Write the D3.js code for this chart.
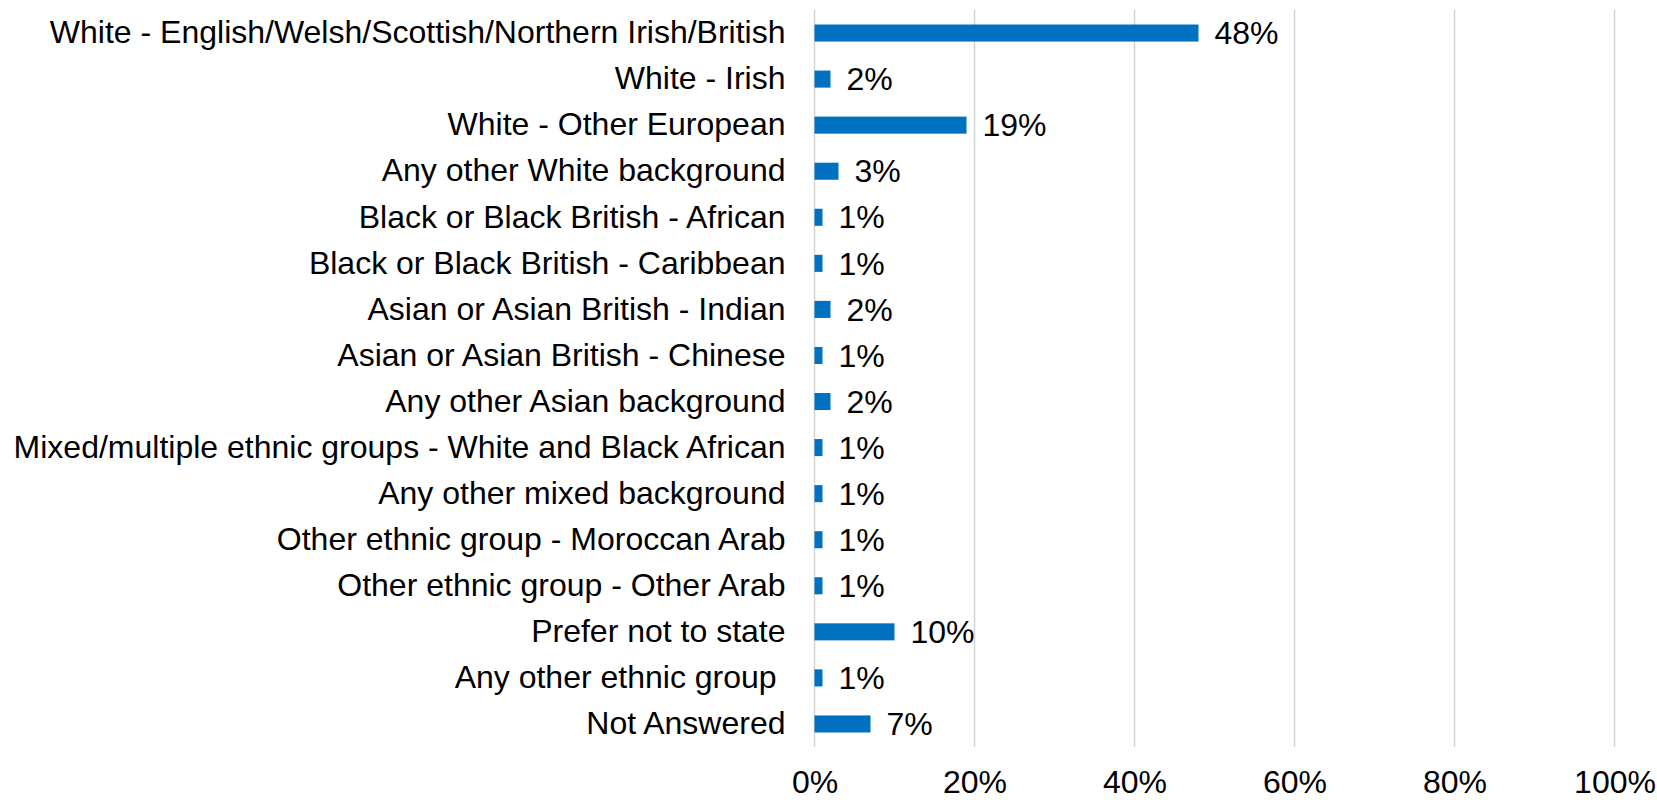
<!DOCTYPE html>
<html>
<head>
<meta charset="utf-8">
<script src="https://cdn.jsdelivr.net/npm/d3@7"></script>
<style>
  html, body { margin: 0; padding: 0; background: #fff; }
  svg { display: block; }
  text { font-family: "Liberation Sans", Arial, sans-serif; fill: #000; }
</style>
</head>
<body>
<svg id="chart" width="1657" height="800"></svg>
<script>
// Ethnic group categories, top to bottom
const categories = [
  "White - English/Welsh/Scottish/Northern Irish/British",
  "White - Irish",
  "White - Other European",
  "Any other White background",
  "Black or Black British - African",
  "Black or Black British - Caribbean",
  "Asian or Asian British - Indian",
  "Asian or Asian British - Chinese",
  "Any other Asian background",
  "Mixed/multiple ethnic groups - White and Black African",
  "Any other mixed background",
  "Other ethnic group - Moroccan Arab",
  "Other ethnic group - Other Arab",
  "Prefer not to state",
  "Any other ethnic group ",
  "Not Answered"
];

// Share of respondents, percent
const shares = [48, 2, 19, 3, 1, 1, 2, 1, 2, 1, 1, 1, 1, 10, 1, 7];

// Axis tick values, percent
const tickValues = [0, 20, 40, 60, 80, 100];

const FONT = '"Liberation Sans", Arial, sans-serif';
const SIZE = "32px";

const svg = d3.select("#chart");
const plot = { left: 814.5, right: 1614.5, top: 10, bottom: 747 };

const x = d3.scaleLinear().domain([0, 100]).range([plot.left, plot.right]);
const y = d3.scaleBand().domain(categories).range([plot.top, plot.bottom]).paddingInner(0.63).paddingOuter(0.315);

// Vertical gridlines
svg.append("g")
  .selectAll("line")
  .data(tickValues)
  .join("line")
  .attr("x1", d => x(d)).attr("x2", d => x(d))
  .attr("y1", plot.top).attr("y2", plot.bottom)
  .attr("stroke", "#d4d4d4")
  .attr("stroke-width", 1.5);

// Bottom axis labels
const xAxis = d3.axisBottom(x).tickValues(tickValues).tickFormat(d => d + "%").tickSize(0).tickPadding(0);
const gx = svg.append("g").attr("transform", `translate(0, ${plot.bottom + 23})`).call(xAxis);
gx.select(".domain").remove();
gx.selectAll("text")
  .attr("dy", "0.71em")
  .style("font-family", FONT)
  .style("font-size", SIZE)
  .attr("fill", "#000");

// Category labels
const yAxis = d3.axisLeft(y).tickSize(0).tickPadding(0);
const gy = svg.append("g").attr("transform", `translate(${plot.left - 29}, 0)`).call(yAxis);
gy.select(".domain").remove();
gy.selectAll("text")
  .style("font-family", FONT)
  .style("font-size", SIZE)
  .style("white-space", "pre")
  .attr("fill", "#000");

// Bars
svg.append("g")
  .selectAll("rect")
  .data(categories)
  .join("rect")
  .attr("x", x(0))
  .attr("y", d => y(d))
  .attr("width", (d, i) => x(shares[i]) - x(0))
  .attr("height", y.bandwidth())
  .attr("fill", "#0070C0");

// Value labels
svg.append("g")
  .selectAll("text")
  .data(categories)
  .join("text")
  .attr("x", (d, i) => x(shares[i]) + 16)
  .attr("y", d => y(d) + y.bandwidth() / 2)
  .attr("dy", "0.35em")
  .style("font-family", FONT)
  .style("font-size", SIZE)
  .text((d, i) => shares[i] + "%");
</script>
</body>
</html>
